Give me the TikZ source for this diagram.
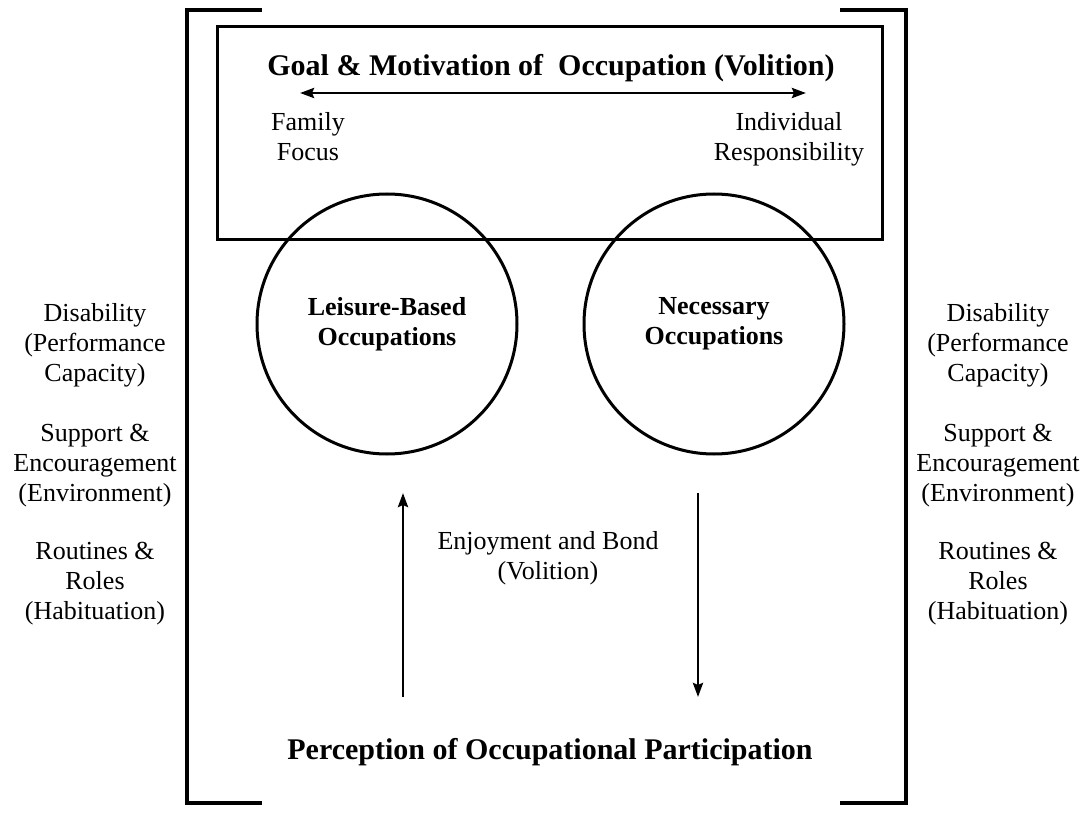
\documentclass[tikz,border=0pt]{standalone}
\usepackage{fontspec}
\setmainfont{Liberation Serif}
\usetikzlibrary{shapes.geometric, arrows.meta}
\tikzstyle{goalbox} = [rectangle, minimum width=332.5pt, minimum height=106.5pt, draw=black, line width=1.5pt]
\tikzstyle{occup} = [circle, minimum size=130pt, draw=black, line width=1.5pt, align=center, font=\fontsize{13}{15}\selectfont\bfseries]
\tikzstyle{factor} = [align=center, inner sep=0pt, font=\fontsize{13}{15}\selectfont]
\tikzstyle{heading} = [inner sep=0pt, font=\fontsize{15}{18}\selectfont\bfseries]
\tikzstyle{arrow} = [line width=1.4pt,->,>={Stealth[length=7pt,width=5pt,inset=1pt]}]
\tikzstyle{bracket} = [line width=2pt]

\begin{document}
\begin{tikzpicture}[x=0.5pt, y=-0.5pt]
\useasboundingbox (0,0) rectangle (1089,813);

% brackets round the model
\draw [bracket] (262,10) -- (187,10) -- (187,803) -- (262,803);
\draw [bracket] (840,10) -- (906,10) -- (906,803) -- (840,803);

% volition box
\node (goal) [goalbox] at (550,133.5) {};
\node (title) [heading] at (551,68) {Goal \& Motivation of\ \ Occupation (Volition)};
\coordinate (famend) at (300,93);
\coordinate (indend) at (806,93);
\draw [arrow, <->] (famend) -- (indend);
\node (family) [factor, anchor=north] at (308,112) {Family\\Focus};
\node (indiv) [factor, anchor=north] at (789,112) {Individual\\Responsibility};

% occupations
\node (leisure) [occup] at (387,324) {Leisure-Based\\Occupations};
\node (necessary) [occup] at (714,324) {Necessary\\Occupations};

\node (bond) [factor] at (548,558) {Enjoyment and Bond\\(Volition)};
\node (percep) [heading] at (550,752) {Perception of Occupational Participation};

\coordinate (upfoot) at (403,697);
\coordinate (uphead) at (403,493);
\coordinate (downfoot) at (698,493);
\coordinate (downhead) at (698,697);
\draw [arrow] (upfoot) -- (uphead);
\draw [arrow] (downfoot) -- (downhead);

% factors on both sides
\node (disabl) [factor] at (95,345) {Disability\\(Performance\\Capacity)};
\node (suppl) [factor] at (95,466) {Support \&\\Encouragement\\(Environment)};
\node (routl) [factor] at (95,584) {Routines \&\\Roles\\(Habituation)};
\node (disabr) [factor] at (998,345) {Disability\\(Performance\\Capacity)};
\node (suppr) [factor] at (998,466) {Support \&\\Encouragement\\(Environment)};
\node (routr) [factor] at (998,584) {Routines \&\\Roles\\(Habituation)};
\end{tikzpicture}
\end{document}
